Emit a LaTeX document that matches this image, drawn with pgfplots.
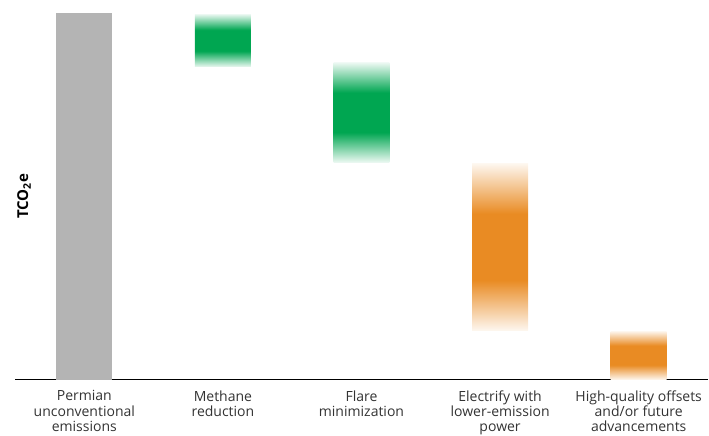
\documentclass[border=0pt]{standalone}
\usepackage{fontspec}
\setmainfont{Open Sans}
\usepackage{pgfplots}
\pgfplotsset{compat=1.18}
\definecolor{barGray}{RGB}{180,180,180}
\definecolor{barGreen}{RGB}{0,166,81}
\definecolor{barOrange}{RGB}{233,139,35}
\colorlet{greenEdge}{barGreen!8!white}
\colorlet{orangeEdge}{barOrange!8!white}
\pgfdeclareverticalshading{greenfade}{100bp}{color(0bp)=(greenEdge); color(25bp)=(greenEdge); color(40bp)=(barGreen); color(60bp)=(barGreen); color(75bp)=(greenEdge); color(100bp)=(greenEdge)}
\pgfdeclareverticalshading{orangefade}{100bp}{color(0bp)=(orangeEdge); color(25bp)=(orangeEdge); color(40bp)=(barOrange); color(60bp)=(barOrange); color(75bp)=(orangeEdge); color(100bp)=(orangeEdge)}
\begin{document}
\begin{tikzpicture}[x=1pt,y=1pt]
\useasboundingbox (-15,-56.5) rectangle (694,379.5);
\begin{axis}[
  at={(0,0)}, anchor=south west,
  scale only axis, width=693pt, height=366.5pt,
  xmin=-0.5, xmax=4.5, ymin=0, ymax=100,
  axis x line*=bottom, axis y line=none,
  x axis line style={line width=1.3pt, -},
  xtick={0,1,2,3,4},
  xticklabels={{Permian\\unconventional\\emissions},{Methane\\reduction},{Flare\\minimization},{Electrify with\\lower-emission\\power},{High-quality offsets\\and/or future\\advancements}},
  major tick length=0pt,
  xticklabel style={align=center, font=\fontsize{14}{15.2}\selectfont, text=black!80, anchor=north, inner sep=0pt, yshift=-11pt},
  clip=false,
]
\addplot[draw=none, fill=barGray] coordinates {(-0.202,0) (0.202,0) (0.202,100) (-0.202,100)} --cycle;
\addplot[draw=none, shade, shading=greenfade] coordinates {(0.798,85.3) (1.202,85.3) (1.202,99.7) (0.798,99.7)} --cycle;
\addplot[draw=none, shade, shading=greenfade] coordinates {(1.798,59.3) (2.202,59.3) (2.202,86.4) (1.798,86.4)} --cycle;
\addplot[draw=none, shade, shading=orangefade] coordinates {(2.798,13.5) (3.202,13.5) (3.202,58.8) (2.798,58.8)} --cycle;
\addplot[draw=none, shade, shading=orangefade] coordinates {(3.798,0) (4.202,0) (4.202,13.2) (3.798,13.2)} --cycle;
\node[rotate=90, font=\bfseries\fontsize{15}{18}\selectfont, text=black] at ([xshift=9pt]rel axis cs:0,0.5) {TCO\textsubscript{2}e};
\end{axis}
\end{tikzpicture}
\end{document}
